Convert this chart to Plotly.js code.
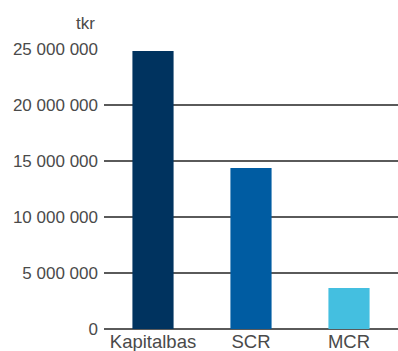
<!DOCTYPE html>
<html><head><meta charset="utf-8">
<script src="https://cdn.plot.ly/plotly-3.0.1.min.js"></script>
<style>html,body{margin:0;padding:0;background:#fff}#c{width:398px;height:351px}</style>
</head><body><div id="c"></div>
<script>
const categories = ["Kapitalbas", "SCR", "MCR"];
const values = [24820000, 14380000, 3660000];
const colors = ["#00335f", "#005ca2", "#44bfe0"];
const tickVals = [0, 5000000, 10000000, 15000000, 20000000, 25000000];
const tickText = ["0", "5 000 000", "10 000 000", "15 000 000", "20 000 000", "25 000 000"];

Plotly.newPlot("c", [{
  type: "bar", x: categories, y: values,
  marker: {color: colors}, hoverinfo: "none"
}], {
  width: 398, height: 351,
  margin: {l: 104, r: 0, t: 49, b: 22, pad: 0},
  bargap: 0.58,
  paper_bgcolor: "#fff", plot_bgcolor: "#fff",
  font: {family: "Liberation Sans, Arial, sans-serif", size: 17, color: "#4a4a4a"},
  xaxis: {showgrid: false, showline: false, zeroline: false, ticks: "", tickfont: {size: 18.5, color: "#4a4a4a"}, ticklabelstandoff: -1},
  yaxis: {range: [0, 25000000], tickvals: tickVals, ticktext: tickText, showgrid: true, gridcolor: "#5a5a5a", gridwidth: 1.5,
    zeroline: true, zerolinecolor: "#5a5a5a", zerolinewidth: 1.5, ticks: "", ticklabelstandoff: 5, tickfont: {size: 17, color: "#4a4a4a"}},
  annotations: [{text: "tkr", xref: "paper", yref: "paper", x: -0.024, y: 1.0, yshift: 26, xanchor: "right", yanchor: "middle", showarrow: false, font: {size: 17, color: "#4a4a4a"}}],
  showlegend: false
}, {staticPlot: true});
</script></body></html>
